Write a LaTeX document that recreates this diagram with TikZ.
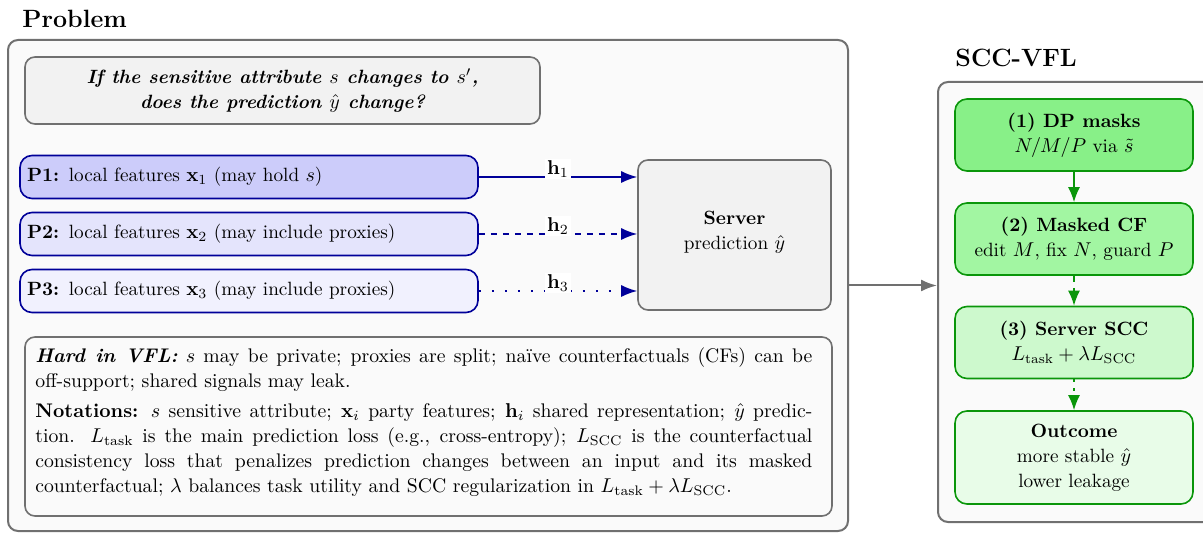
\documentclass[tikz,border=0pt]{standalone}
\usepackage{amsmath,amssymb}
\usetikzlibrary{arrows.meta,calc}
\definecolor{navy}{HTML}{000099}
\definecolor{gborder}{HTML}{0A960A}
\definecolor{gone}{HTML}{88F088}
\definecolor{gtwo}{HTML}{A2F6A2}
\definecolor{gthree}{HTML}{CDF9CD}
\definecolor{gfour}{HTML}{E8FCE8}
\definecolor{pone}{HTML}{CCCCFA}
\definecolor{ptwo}{HTML}{E4E4FC}
\definecolor{pthree}{HTML}{F1F1FE}
\definecolor{framec}{HTML}{707070}
\definecolor{panelbg}{HTML}{FAFAFA}
\definecolor{qfill}{HTML}{F2F2F2}
\begin{document}
\begin{tikzpicture}[x=0.5pt,y=-0.5pt,
  font=\fontsize{9.6}{12.5}\selectfont,
  panel/.style={draw=framec, line width=1pt, fill=panelbg, rounded corners=5pt},
  graybox/.style={draw=framec, line width=0.8pt, fill=qfill, rounded corners=5pt, align=center},
  pbox/.style={draw=navy, line width=0.8pt, rounded corners=6pt, minimum width=229pt,
    minimum height=21.5pt, text width=222pt, inner xsep=3.5pt, align=left},
  gbox/.style={draw=gborder, line width=0.8pt, rounded corners=6pt, minimum width=119pt,
    minimum height=36pt, align=center},
  navyarrow/.style={draw=navy, line width=0.8pt, -{Latex[length=8pt,width=6pt]}},
  garrow/.style={draw=gborder, line width=0.8pt, -{Latex[length=7.5pt,width=6pt]}},
  grayarrow/.style={draw=framec, line width=1pt, -{Latex[length=8pt,width=6pt]}},
  hlabel/.style={fill=white, inner sep=1pt, yshift=4pt},
  titlefont/.style={font=\fontsize{12.5}{14}\selectfont\bfseries, inner sep=0pt, anchor=west}
]
\useasboundingbox (0,0) rectangle (1203,533);

% titles
\node[titlefont] (ptitle) at (22,19) {Problem};
\node[titlefont] (stitle) at (955,58) {SCC-VFL};

% panels
\node[panel, minimum width=420pt, minimum height=245.5pt] (left) at (428,285.5) {};
\node[panel, minimum width=138.5pt, minimum height=220pt] (right) at (1076.5,302) {};

% question
\node[graybox, minimum width=257.5pt, minimum height=33.5pt] (q) at (282.5,90.5)
  {\bfseries\itshape If the sensitive attribute $s$ changes to $s'$,\\
   \bfseries\itshape does the prediction $\hat{y}$ change?};

% parties
\node[pbox, fill=pone] (p1) at (249,177)
  {\textbf{P1:} local features $\mathbf{x}_1$ (may hold $s$)};
\node[pbox, fill=ptwo] (p2) at (249,234)
  {\textbf{P2:} local features $\mathbf{x}_2$ (may include proxies)};
\node[pbox, fill=pthree] (p3) at (249,291)
  {\textbf{P3:} local features $\mathbf{x}_3$ (may include proxies)};

% server
\node[graybox, minimum width=96.5pt, minimum height=75pt, text depth=5pt] (srv) at (734.5,235)
  {\textbf{Server}\\ prediction $\hat{y}$};

\draw[navyarrow] (p1.east) -- node[hlabel] {$\mathbf{h}_1$} (p1.east -| srv.west);
\draw[navyarrow, dashed] (p2.east) -- node[hlabel] {$\mathbf{h}_2$} (p2.east -| srv.west);
\draw[navyarrow, dash pattern=on 1.2pt off 5.3pt] (p3.east) -- node[hlabel] {$\mathbf{h}_3$} (p3.east -| srv.west);

% hard box
\node[panel, line width=0.8pt, minimum width=403.5pt, minimum height=89.5pt] (hardbox) at (428.5,426.5) {};
\node[anchor=north west, inner sep=0pt, text width=388.5pt, align=justify,
      font=\fontsize{9.85}{12.5}\selectfont] (hardtext) at (35,347)
  {\textbf{\itshape Hard in VFL:} $s$ may be private; proxies are split; na\"ive counterfactuals (CFs) can be\linebreak
   off-support; shared signals may leak.\par\vspace{2.5pt}
   \textbf{Notations:} $s$ sensitive attribute; $\mathbf{x}_i$ party features; $\mathbf{h}_i$ shared representation; $\hat{y}$ predic-\linebreak
   tion. $L_{\text{task}}$ is the main prediction loss (e.g., cross-entropy); $L_{\mathrm{SCC}}$ is the counterfactual\linebreak
   consistency loss that penalizes prediction changes between an input and its masked\linebreak
   counterfactual; $\lambda$ balances task utility and SCC regularization in $L_{\text{task}}+\lambda L_{\mathrm{SCC}}$.};

% right pipeline
\node[gbox, fill=gone] (s1) at (1074,135) {\textbf{(1) DP masks}\\$N/M/P$ via $\tilde{s}$};
\node[gbox, fill=gtwo] (s2) at (1074,239) {\textbf{(2) Masked CF}\\edit $M$, fix $N$, guard $P$};
\node[gbox, fill=gthree] (s3) at (1074,342.5) {\textbf{(3) Server SCC}\\$L_{\text{task}}+\lambda L_{\mathrm{SCC}}$};
\node[gbox, fill=gfour, minimum height=46.5pt] (s4) at (1074,457.5) {\textbf{Outcome}\\more stable $\hat{y}$\\lower leakage};

\draw[garrow] (s1) -- (s2);
\draw[garrow, dashed] (s2) -- (s3);
\draw[garrow, dash pattern=on 1.5pt off 3pt] (s3) -- (s4);

% link
\draw[grayarrow] (left.east) -- (left.east -| right.west);
\end{tikzpicture}
\end{document}
